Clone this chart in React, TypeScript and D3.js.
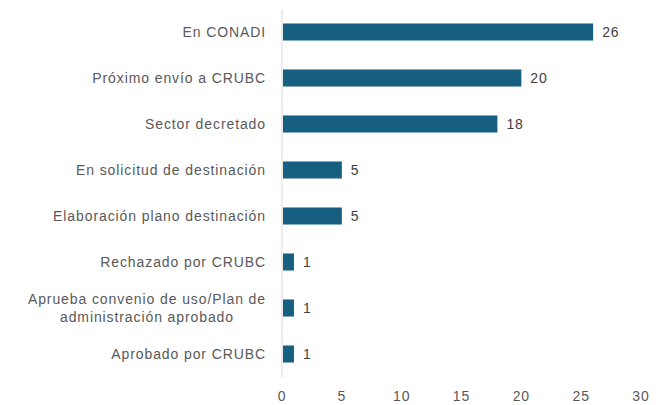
import { useEffect, useRef } from "react";
import * as d3 from "d3";

const categories = [
  "En CONADI",
  "Próximo envío a CRUBC",
  "Sector decretado",
  "En solicitud de destinación",
  "Elaboración plano destinación",
  "Rechazado por CRUBC",
  "Aprueba convenio de uso/Plan de\nadministración aprobado",
  "Aprobado por CRUBC",
];
const values = [26, 20, 18, 5, 5, 1, 1, 1];
const xTicks = [0, 5, 10, 15, 20, 25, 30];

export default function App() {
  const svgRef = useRef<SVGSVGElement>(null);

  useEffect(() => {
    const width = 665;
    const height = 405;
    const svg = d3.select(svgRef.current).attr("width", width).attr("height", height);
    svg.selectAll("*").remove();

    const x = d3.scaleLinear().domain([0, 30]).range([282, 641]);
    const y = d3
      .scaleBand<string>()
      .domain(categories)
      .range([9, 377])
      .paddingInner(0.63)
      .paddingOuter(0.315);

    const font = "'Liberation Sans', Arial, sans-serif";
    const textColor = "#595959";
    const spacing = 0.9;

    // axis line
    svg
      .append("line")
      .attr("x1", x(0))
      .attr("x2", x(0))
      .attr("y1", 9)
      .attr("y2", 377)
      .attr("stroke", "#d9d9d9")
      .attr("stroke-width", 1);

    svg
      .selectAll(".bar")
      .data(values)
      .join("rect")
      .attr("x", x(0) + 1)
      .attr("y", (d, i) => y(categories[i])!)
      .attr("width", (d) => x(d) - x(0) - 1)
      .attr("height", y.bandwidth())
      .attr("fill", "#175f80");

    svg
      .selectAll(".val")
      .data(values)
      .join("text")
      .attr("x", (d) => x(d) + 9)
      .attr("y", (d, i) => y(categories[i])! + y.bandwidth() / 2)
      .attr("dy", "0.35em")
      .attr("font-family", font)
      .attr("font-size", 14)
      .attr("letter-spacing", spacing)
      .attr("fill", "#404040")
      .text((d) => d);

    // category labels
    categories.forEach((c) => {
      const lines = c.split("\n");
      const cy = y(c)! + y.bandwidth() / 2;
      const t = svg
        .append("text")
        .attr("font-family", font)
        .attr("font-size", 14)
        .attr("letter-spacing", spacing)
        .attr("fill", textColor)
        .attr("text-anchor", lines.length > 1 ? "middle" : "end");
      const lh = 18;
      lines.forEach((l, i) => {
        t.append("tspan")
          .attr("x", 0)
          .attr("y", cy + (i - (lines.length - 1) / 2) * lh)
          .attr("dy", "0.35em")
          .text(l);
      });
      if (lines.length > 1) {
        const w = (t.node() as SVGTextElement).getBBox().width;
        t.selectAll("tspan").attr("x", 266 - w / 2);
      } else {
        t.selectAll("tspan").attr("x", 266);
      }
    });

    svg
      .selectAll(".tick")
      .data(xTicks)
      .join("text")
      .attr("x", (d) => x(d))
      .attr("y", 396)
      .attr("dy", "0.35em")
      .attr("text-anchor", "middle")
      .attr("font-family", font)
      .attr("font-size", 14)
      .attr("letter-spacing", spacing)
      .attr("fill", textColor)
      .text((d) => d);
  }, []);

  return <svg ref={svgRef} style={{ position: "absolute", left: 0, top: 0 }}></svg>;
}
